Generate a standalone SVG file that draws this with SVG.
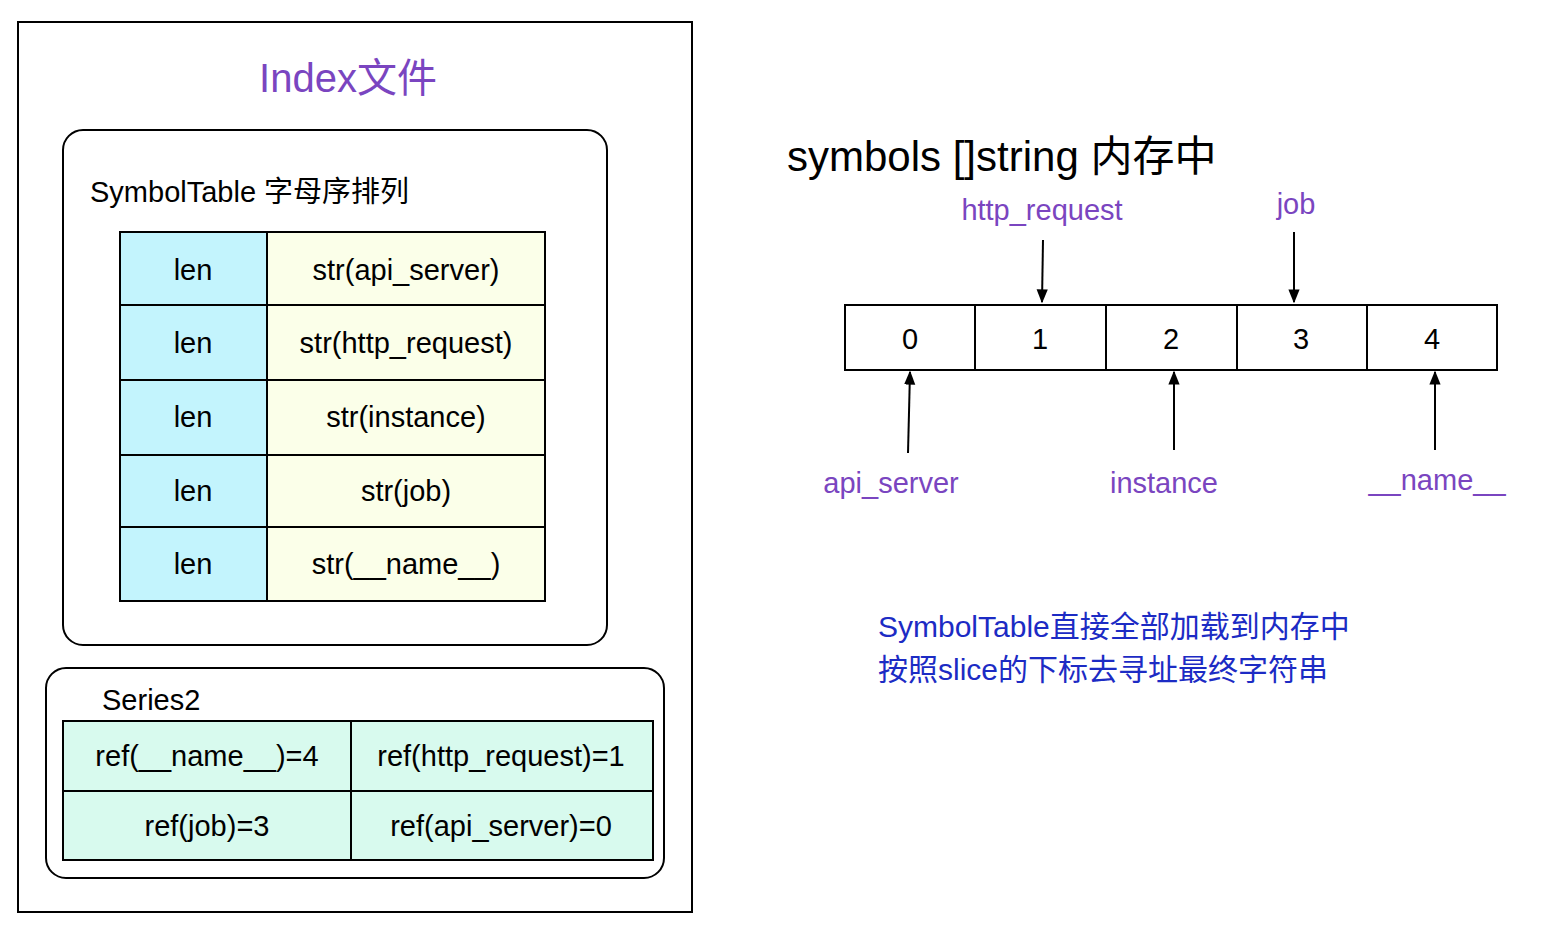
<svg xmlns="http://www.w3.org/2000/svg" width="1548" height="938" viewBox="0 0 1548 938">
<defs>
<style>
text{font-family:"Liberation Sans","Noto Sans CJK SC",sans-serif;fill:#000}
.c{text-anchor:middle;dominant-baseline:central;font-size:29px}
.p{fill:#7a45c0}
.b{stroke:#000;stroke-width:2}
.a{stroke:#000;stroke-width:2;fill:none;marker-end:url(#ar)}
</style>
<marker id="ar" viewBox="0 0 10 10" refX="9" refY="5" markerWidth="7" markerHeight="7" orient="auto"><path d="M0,1 L10,5 L0,9 z" fill="#000"/></marker>
</defs>
<rect width="1548" height="938" fill="#fff"/>
<g id="index"><rect x="18" y="22" width="674" height="890" fill="#fff" class="b"/>
<text x="348" y="78" class="c p" style="font-size:40px">Index文件</text></g>
<g id="symboltable"><rect x="63" y="130" width="544" height="515" rx="20" fill="#fff" class="b"/>
<text x="90" y="202" style="font-size:29px">SymbolTable 字母序排列</text>
<g class="b">
<rect x="120" y="232" width="147" height="369" fill="#c3f4fd"/>
<rect x="267" y="232" width="278" height="369" fill="#fbffe9"/>
<line x1="120" y1="305" x2="545" y2="305"/><line x1="120" y1="380" x2="545" y2="380"/><line x1="120" y1="455" x2="545" y2="455"/><line x1="120" y1="527" x2="545" y2="527"/>
</g>
<text class="c" x="193" y="270">len</text><text class="c" x="193" y="343">len</text><text class="c" x="193" y="417">len</text><text class="c" x="193" y="491">len</text><text class="c" x="193" y="564">len</text>
<text class="c" x="406" y="270">str(api_server)</text><text class="c" x="406" y="343">str(http_request)</text><text class="c" x="406" y="417">str(instance)</text><text class="c" x="406" y="491">str(job)</text><text class="c" x="406" y="564">str(__name__)</text>
</g>
<g id="series2"><rect x="46" y="668" width="618" height="210" rx="20" fill="#fff" class="b"/>
<text x="102" y="710" style="font-size:29px">Series2</text>
<g class="b"><rect x="63" y="721" width="590" height="139" fill="#d8faee"/>
<line x1="351" y1="721" x2="351" y2="860"/><line x1="63" y1="791" x2="653" y2="791"/></g>
<text class="c" x="207" y="756">ref(__name__)=4</text><text class="c" x="501" y="756">ref(http_request)=1</text>
<text class="c" x="207" y="826">ref(job)=3</text><text class="c" x="501" y="826">ref(api_server)=0</text>
</g>
<g id="symbols">
<text x="787" y="171" style="font-size:42px">symbols []string    内存中</text>
<g class="b" fill="#fff"><rect x="845" y="305" width="652" height="65"/>
<line x1="975" y1="305" x2="975" y2="370"/><line x1="1106" y1="305" x2="1106" y2="370"/><line x1="1237" y1="305" x2="1237" y2="370"/><line x1="1367" y1="305" x2="1367" y2="370"/></g>
<text class="c" x="910" y="339">0</text><text class="c" x="1040" y="339">1</text><text class="c" x="1171" y="339">2</text><text class="c" x="1301" y="339">3</text><text class="c" x="1432" y="339">4</text>
</g>
<g id="labels">
<text class="c p" x="1042" y="210">http_request</text>
<text class="c p" x="1296" y="204">job</text>
<text class="c p" x="891" y="483">api_server</text>
<text class="c p" x="1164" y="483">instance</text>
<text class="c p" x="1437" y="480">__name__</text>
</g>
<g id="connectors">
<line class="a" x1="1043" y1="240" x2="1042" y2="302"/>
<line class="a" x1="1294" y1="232" x2="1294" y2="302"/>
<line class="a" x1="908" y1="453" x2="910" y2="372"/>
<line class="a" x1="1174" y1="450" x2="1174" y2="372"/>
<line class="a" x1="1435" y1="450" x2="1435" y2="372"/>
</g>
<g id="note">
<text x="878" y="637" style="font-size:30px;fill:#1c2bc4">SymbolTable直接全部加载到内存中</text>
<text x="878" y="680" style="font-size:30px;fill:#1c2bc4">按照slice的下标去寻址最终字符串</text>
</g>
</svg>
